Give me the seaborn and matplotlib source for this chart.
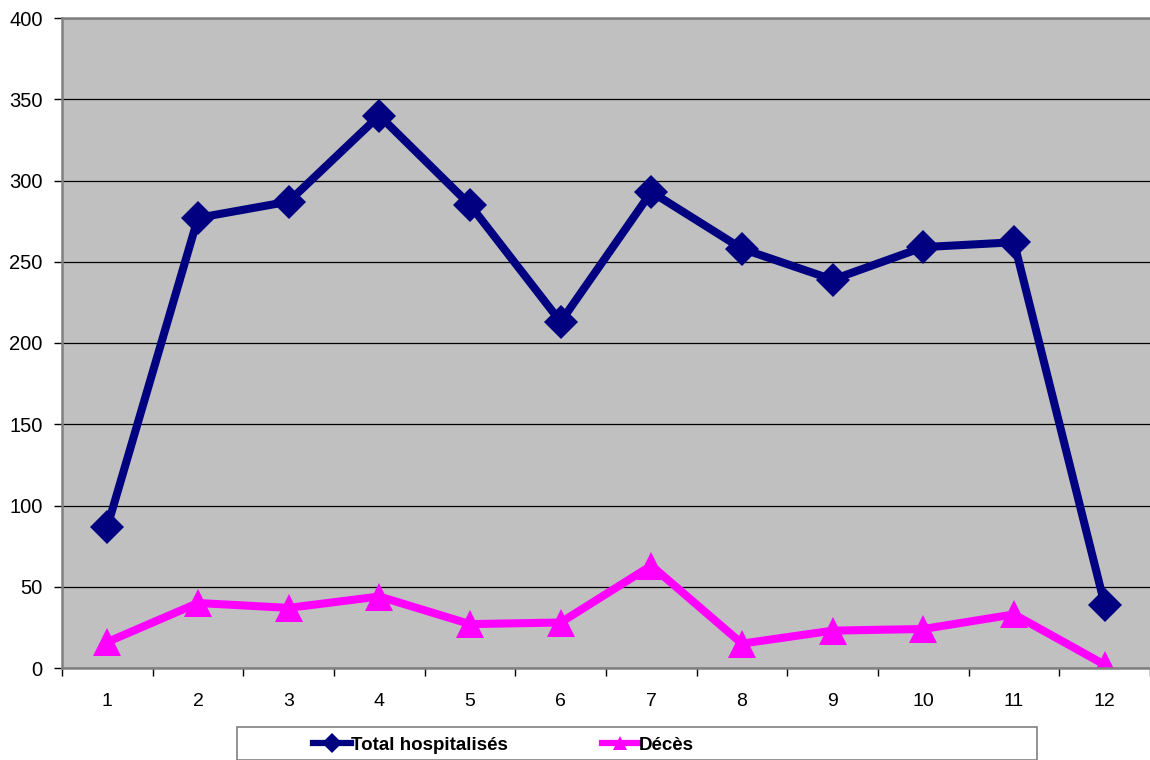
import matplotlib
matplotlib.use("AGG")
import matplotlib.pyplot as plt
from matplotlib.lines import Line2D
from matplotlib.patches import Rectangle
import seaborn as sns
import pandas as pd

mois = list(range(1, 13))
total_hosp = [87, 277, 287, 340, 285, 213, 293, 258, 239, 259, 262, 39]
deces = [16, 40, 37, 44, 27, 28, 63, 15, 23, 24, 33, 2]
series = ["Total hospitalisés", "Décès"]
colors = ["#000080", "#FF00FF"]

df = pd.DataFrame({
    "Mois": mois * 2,
    "Valeur": total_hosp + deces,
    "Serie": [series[0]] * 12 + [series[1]] * 12,
})

plt.rcParams["font.family"] = ["Liberation Sans", "DejaVu Sans"]

fig = plt.figure(figsize=(11.5, 7.6), dpi=100)
ax = fig.add_axes([62 / 1150, 1 - 668 / 760, 1 - 62 / 1150, (668 - 18) / 760])
ax.set_facecolor("#C0C0C0")

sns.lineplot(data=df, x="Mois", y="Valeur", hue="Serie", style="Serie",
             markers=["D", "^"], dashes=False, palette=colors,
             linewidth=5.8, markersize=17, markeredgewidth=0,
             legend=False, ax=ax)
# triangles are a bit bigger than the diamonds
ax.lines[1].set_markersize(19.5)

ax.set_xlim(0.5, 12.5)
ax.set_ylim(0, 400)
ax.set_yticks(range(0, 401, 50))
ax.set_xticks(mois)
ax.set_xticks([m + 0.5 for m in range(0, 13)], minor=True)
ax.tick_params(axis="x", which="major", length=0, pad=18, labelsize=14)
ax.tick_params(axis="x", which="minor", length=6, width=1, color="black")
ax.tick_params(axis="y", length=6, width=1, color="black", labelsize=14.5, pad=8)
ax.set_xlabel("")
ax.set_ylabel("")
ax.grid(axis="y", color="black", linewidth=0.9)
ax.set_axisbelow(True)
for side in ["left", "bottom", "top"]:
    ax.spines[side].set_color("#808080")
    ax.spines[side].set_linewidth(1.8)
ax.spines["right"].set_visible(False)

# legend frame + entries
fig.patches.append(Rectangle((237 / 1150, 0), 800 / 1150, 33 / 760,
                             transform=fig.transFigure, facecolor="white",
                             edgecolor="#808080", linewidth=1.2))
handles = [Line2D([], [], color=c, marker=m, linewidth=4.5, markersize=10,
                  markeredgewidth=0) for c, m in zip(colors, ["D", "^"])]
fig.legend(handles, series, loc="center left",
           bbox_to_anchor=(304 / 1150, 15 / 760), ncol=2, frameon=False,
           borderpad=0, handlelength=2.0, handletextpad=0.0,
           columnspacing=5.0, prop={"weight": "bold", "size": 13.5})

plt.savefig("out.png")
